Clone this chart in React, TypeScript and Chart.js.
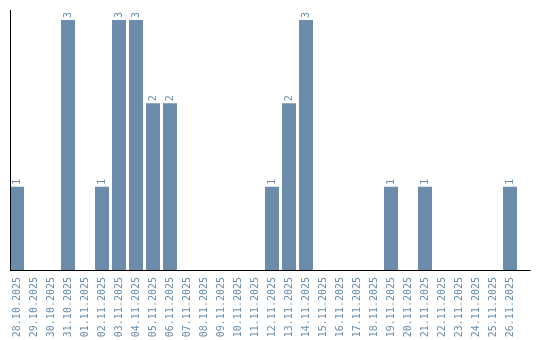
import React, { useEffect, useRef } from "react";
import { Chart, registerables } from "chart.js";

Chart.register(...registerables);

const categories = [
  "28.10.2025", "29.10.2025", "30.10.2025", "31.10.2025", "01.11.2025",
  "02.11.2025", "03.11.2025", "04.11.2025", "05.11.2025", "06.11.2025",
  "07.11.2025", "08.11.2025", "09.11.2025", "10.11.2025", "11.11.2025",
  "12.11.2025", "13.11.2025", "14.11.2025", "15.11.2025", "16.11.2025",
  "17.11.2025", "18.11.2025", "19.11.2025", "20.11.2025", "21.11.2025",
  "22.11.2025", "23.11.2025", "24.11.2025", "25.11.2025", "26.11.2025",
];
const values = [
  1, 0, 0, 3, 0,
  1, 3, 3, 2, 2,
  0, 0, 0, 0, 0,
  1, 2, 3, 0, 0,
  0, 0, 1, 0, 1,
  0, 0, 0, 0, 1,
];

const BAR = "#6b8cab";
const TEXT = "#6b8cab";
const FONT = "DejaVu Sans Mono";

const valueLabels = {
  id: "valueLabels",
  afterDatasetsDraw(chart: any) {
    const ctx = chart.ctx;
    const meta = chart.getDatasetMeta(0);
    ctx.save();
    ctx.fillStyle = TEXT;
    ctx.font = `10px "${FONT}"`;
    ctx.textAlign = "left";
    ctx.textBaseline = "middle";
    meta.data.forEach((bar: any, i: number) => {
      const v = values[i];
      if (!v) return;
      ctx.save();
      ctx.translate(bar.x, bar.y - 2);
      ctx.rotate(-Math.PI / 2);
      ctx.fillText(String(v), 0, 0);
      ctx.restore();
    });
    ctx.restore();
  },
};

const axisLines = {
  id: "axisLines",
  afterDatasetsDraw(chart: any) {
    const { ctx, chartArea } = chart;
    ctx.save();
    ctx.strokeStyle = "#000";
    ctx.lineWidth = 1;
    ctx.beginPath();
    const lx = Math.round(chartArea.left + 1.5) + 0.5;
    const by = Math.round(chartArea.bottom) + 0.5;
    ctx.moveTo(lx, chartArea.top);
    ctx.lineTo(lx, by);
    ctx.moveTo(lx - 0.5, by);
    ctx.lineTo(chartArea.right + 12, by);
    ctx.stroke();
    ctx.restore();
  },
};

export default function App() {
  const ref = useRef<HTMLCanvasElement | null>(null);
  useEffect(() => {
    if (!ref.current) return;
    const chart = new Chart(ref.current, {
      type: "bar",
      data: {
        labels: categories,
        datasets: [
          {
            data: values,
            backgroundColor: BAR,
            borderWidth: 0,
            barPercentage: 14 / 17,
            categoryPercentage: 1,
          },
        ],
      },
      options: {
        animation: false,
        responsive: false,
        maintainAspectRatio: false,
        layout: { padding: { left: 8.5, right: 21.5, top: 10, bottom: 0 } },
        plugins: {
          legend: { display: false },
          tooltip: { enabled: false },
        },
        scales: {
          x: {
            grid: { display: false, drawTicks: false },
            border: { display: false },
            ticks: {
              autoSkip: false,
              minRotation: 90,
              maxRotation: 90,
              padding: 7,
              color: TEXT,
              font: { family: FONT, size: 10 },
            },
            afterFit(scale: any) {
              scale.height = 70;
            },
          },
          y: {
            display: false,
            min: 0,
            max: 3.12,
          },
        },
      },
      plugins: [valueLabels, axisLines],
    });
    return () => chart.destroy();
  }, []);
  return (
    <div style={{ position: "fixed", left: 0, top: 0, width: 540, height: 340 }}>
      <canvas ref={ref} width={540} height={340} style={{ display: "block" }} />
    </div>
  );
}
